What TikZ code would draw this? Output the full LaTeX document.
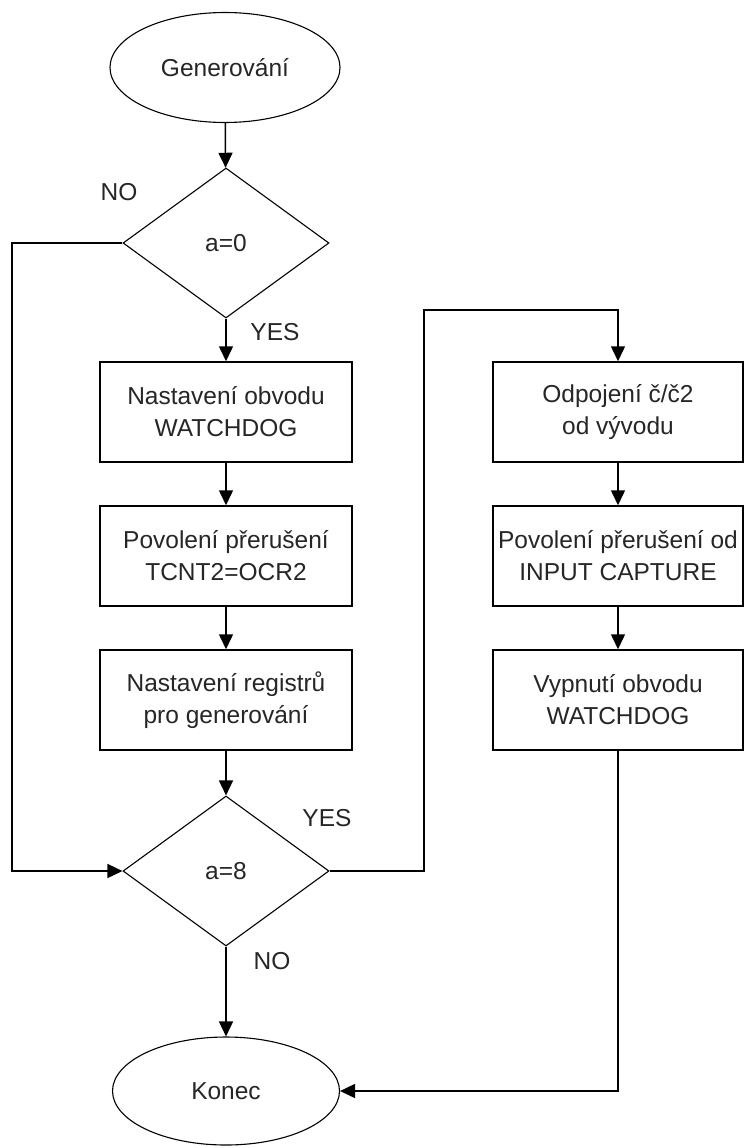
\documentclass[tikz,border=0pt]{standalone}
\usepackage{fontspec}
\setmainfont{Liberation Sans}
\usetikzlibrary{shapes.geometric,arrows.meta}
\begin{document}
\begin{tikzpicture}[x=1pt,y=-1pt,
  every node/.style={font=\fontsize{24.5}{32}\selectfont, text=black!85},
  term/.style={draw, ellipse, line width=1.1pt, inner sep=0pt, minimum width=230pt, minimum height=110pt},
  cond/.style={draw, diamond, line width=1.1pt, inner sep=0pt, minimum width=206pt, minimum height=150pt},
  proc/.style={draw, rectangle, line width=1.5pt, inner sep=0pt, minimum width=252pt, minimum height=100pt, align=center},
  lbl/.style={inner sep=0pt},
  conn/.style={line width=1.5pt},
  arr/.style={conn, -{Triangle[length=15pt,width=14pt]}}
]
\useasboundingbox (0,0) rectangle (744,1148);
\node[term] (gen) at (225,67.5) {Generování};
\node[cond] (d0) at (226,243) {a=0};
\node[proc] (b1) at (226,412) {Nastavení obvodu\\WATCHDOG};
\node[proc] (b2) at (226,556) {Povolení přerušení\\TCNT2=OCR2};
\node[proc] (b3) at (226,700) {Nastavení registrů\\pro generování};
\node[cond] (d8) at (226,871) {a=8};
\node[term, minimum width=227pt, minimum height=108pt] (end) at (226,1091) {Konec};
\node[proc, minimum width=250pt] (b4) at (618,412) {Odpojení č/č2\\od vývodu};
\node[proc, minimum width=250pt] (b5) at (618,556) {Povolení přerušení od\\INPUT CAPTURE};
\node[proc, minimum width=250pt] (b6) at (618,700) {Vypnutí obvodu\\WATCHDOG};

\node[lbl] (no1) at (119,192) {NO};
\node[lbl] (yes1) at (275,332) {YES};
\node[lbl] (yes2) at (327,818) {YES};
\node[lbl] (no2) at (272,961) {NO};

\coordinate (l1) at (12,243);
\coordinate (l2) at (12,871);
\coordinate (r1) at (424,871);
\coordinate (r2) at (424,310);
\coordinate (r3) at (618,310);
\coordinate (r4) at (618,1091);

\draw[arr] (gen) -- (d0);
\draw[arr] (d0.south) -- (b1.north);
\draw[arr] (b1) -- (b2);
\draw[arr] (b2) -- (b3);
\draw[arr] (b3) -- (d8.north);
\draw[arr] (d8.south) -- (end.north);
\draw[arr] (d0.west) -- (l1) -- (l2) -- (d8.west);
\draw[arr] (d8.east) -- (r1) -- (r2) -- (r3) -- (b4.north);
\draw[arr] (b4) -- (b5);
\draw[arr] (b5) -- (b6);
\draw[arr] (b6.south) -- (r4) -- (end.east);
\end{tikzpicture}
\end{document}
